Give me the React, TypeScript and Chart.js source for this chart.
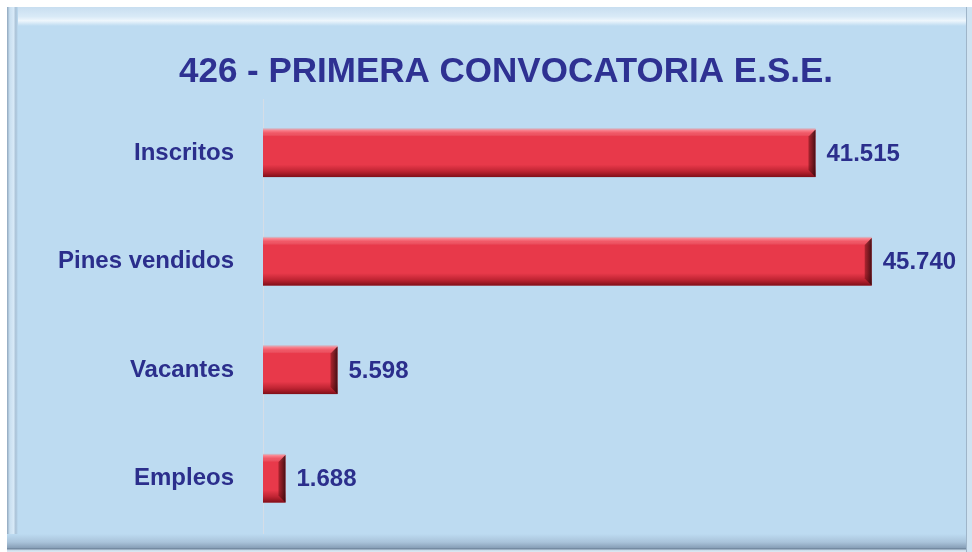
import React, { useEffect, useRef } from "react";
import { Chart, registerables } from "chart.js";

Chart.register(...registerables);

const TITLE = "426 - PRIMERA CONVOCATORIA E.S.E.";
const categories = ["Inscritos", "Pines vendidos", "Vacantes", "Empleos"];
const values = [41515, 45740, 5598, 1688];
const X_MAX = 52000;

const NAVY = "#2B2E8C";
const FONT = "'Liberation Sans', Arial, sans-serif";

function fmt(n: number): string {
  const s = String(Math.round(n));
  return s.replace(/\B(?=(\d{3})+(?!\d))/g, ".");
}

const framePlugin = {
  id: "frame",
  beforeDraw(chart: any) {
    const ctx = chart.ctx as CanvasRenderingContext2D;
    const W = chart.width;
    const H = chart.height;
    ctx.save();
    ctx.fillStyle = "#ffffff";
    ctx.fillRect(0, 0, W, H);
    ctx.fillStyle = "#BDDBF1";
    ctx.fillRect(7, 7, W - 7, H - 7);
    let g = ctx.createLinearGradient(0, 7, 0, 26);
    g.addColorStop(0, "#c8def0");
    g.addColorStop(0.5, "#d9eaf7");
    g.addColorStop(0.72, "#eef6fc");
    g.addColorStop(1, "#BDDBF1");
    ctx.fillStyle = g;
    ctx.fillRect(7, 7, W - 7, 19);
    g = ctx.createLinearGradient(7, 0, 18, 0);
    g.addColorStop(0, "#8ea6bd");
    g.addColorStop(0.25, "#c9dff0");
    g.addColorStop(0.6, "#d7e9f7");
    g.addColorStop(0.8, "#a9c1d6");
    g.addColorStop(1, "#BDDBF1");
    ctx.fillStyle = g;
    ctx.fillRect(7, 7, 11, H - 7);
    g = ctx.createLinearGradient(0, 534, 0, 552);
    g.addColorStop(0, "#BDDBF1");
    g.addColorStop(0.45, "#a9c3da");
    g.addColorStop(0.75, "#8aa2ba");
    g.addColorStop(0.82, "#6f859c");
    g.addColorStop(0.9, "#c9dbea");
    g.addColorStop(1, "#dfeaf3");
    ctx.fillStyle = g;
    ctx.fillRect(7, 534, W - 7, 18);
    ctx.fillStyle = "#9fb5c9";
    ctx.fillRect(966, 7, 1, H - 7);
    ctx.fillStyle = "#cfe3f2";
    ctx.fillRect(967, 7, W - 967, H - 7);
    ctx.restore();
  },
};

const titlePlugin = {
  id: "customTitle",
  afterDraw(chart: any) {
    const ctx = chart.ctx as CanvasRenderingContext2D;
    ctx.save();
    ctx.font = `bold 35px ${FONT}`;
    ctx.fillStyle = "#2E3192";
    ctx.textAlign = "center";
    ctx.textBaseline = "middle";
    ctx.fillText(TITLE, 506, 72);
    ctx.restore();
  },
};

const bevelPlugin = {
  id: "bevel",
  afterDatasetsDraw(chart: any) {
    const ctx = chart.ctx as CanvasRenderingContext2D;
    const meta = chart.getDatasetMeta(0);
    ctx.save();
    meta.data.forEach((bar: any, i: number) => {
      const p = bar.getProps(["x", "y", "base", "height"], true);
      const top = p.y - p.height / 2;
      const bot = p.y + p.height / 2;
      const left = p.base;
      const right = p.x;
      const w = right - left;
      const h = bot - top;
      const g = ctx.createLinearGradient(0, top, 0, bot);
      g.addColorStop(0, "rgba(255,170,180,0.8)");
      g.addColorStop(0.08, "rgba(255,140,150,0.35)");
      g.addColorStop(0.15, "rgba(255,255,255,0)");
      g.addColorStop(0.74, "rgba(120,0,10,0)");
      g.addColorStop(0.87, "rgba(120,0,10,0.35)");
      g.addColorStop(1, "rgba(90,0,8,0.75)");
      ctx.fillStyle = g;
      ctx.fillRect(left, top, w, h);
      const b = Math.min(7, w / 3);
      const rg = ctx.createLinearGradient(right - b, 0, right, 0);
      rg.addColorStop(0, "rgba(110,15,20,0.5)");
      rg.addColorStop(1, "rgba(50,10,15,0.9)");
      ctx.fillStyle = rg;
      ctx.beginPath();
      ctx.moveTo(right, top);
      ctx.lineTo(right - b, top + b);
      ctx.lineTo(right - b, bot - b);
      ctx.lineTo(right, bot);
      ctx.closePath();
      ctx.fill();
      ctx.fillStyle = "rgba(220,160,170,0.8)";
      ctx.fillRect(left, top - 1, w, 1);
      ctx.font = `bold 24px ${FONT}`;
      ctx.fillStyle = NAVY;
      ctx.textAlign = "left";
      ctx.textBaseline = "middle";
      ctx.fillText(fmt(values[i]), right + 11, p.y + 1);
    });
    ctx.restore();
  },
};

export default function App() {
  const ref = useRef<HTMLCanvasElement | null>(null);
  useEffect(() => {
    if (!ref.current) return;
    const chart = new Chart(ref.current, {
      type: "bar",
      data: {
        labels: categories,
        datasets: [
          {
            data: values,
            backgroundColor: "#E8394A",
            borderWidth: 0,
            categoryPercentage: 1,
            barPercentage: 0.44,
          },
        ],
      },
      options: {
        indexAxis: "y",
        animation: false,
        responsive: false,
        events: [],
        layout: { padding: { left: 0, right: 17, top: 99, bottom: 19 } },
        plugins: {
          legend: { display: false },
          title: { display: false },
          tooltip: { enabled: false },
        },
        scales: {
          x: {
            display: false,
            min: 0,
            max: X_MAX,
            afterFit: (scale: any) => {
              scale.height = 0;
            },
          },
          y: {
            grid: { display: false, drawTicks: false },
            border: { display: true, color: "#d5dde6", width: 1 },
            ticks: {
              padding: 29,
              color: NAVY,
              font: { family: FONT, size: 24, weight: "bold" },
            },
            afterFit: (scale: any) => {
              scale.width = 263;
              scale.paddingTop = 0;
              scale.paddingBottom = 0;
            },
          },
        },
      },
      plugins: [framePlugin, bevelPlugin, titlePlugin],
    });
    return () => chart.destroy();
  }, []);
  return (
    <div style={{ position: "absolute", left: 0, top: 0, width: 972, height: 552 }}>
      <canvas ref={ref} width={972} height={552} style={{ display: "block" }} />
    </div>
  );
}
